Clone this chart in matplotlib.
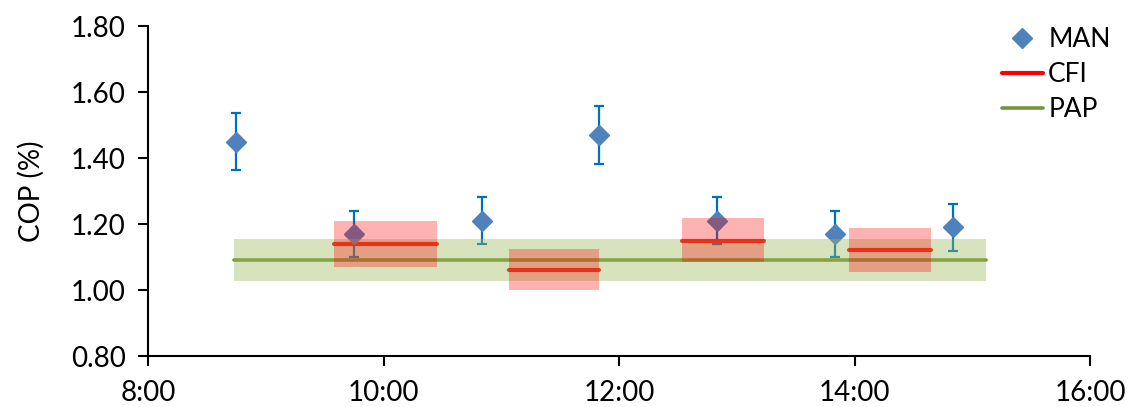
import matplotlib.pyplot as plt
from matplotlib.ticker import FuncFormatter, MultipleLocator

plt.rcParams['font.family'] = ['Lato', 'DejaVu Sans']

# MAN samples: time, mean, error
man_time = ["8:45", "9:45", "10:50", "11:50", "12:50", "13:50", "14:50"]
man_val = [1.45, 1.17, 1.21, 1.47, 1.21, 1.17, 1.19]
man_err = [0.087, 0.07, 0.072, 0.088, 0.072, 0.07, 0.071]

# CFI segments: start, end, mean, band low, band high
cfi_start = ["9:35", "11:04", "12:32", "13:57"]
cfi_end = ["10:27", "11:50", "13:14", "14:39"]
cfi_val = [1.14, 1.06, 1.148, 1.12]
cfi_lo = [1.07, 1.00, 1.084, 1.055]
cfi_hi = [1.21, 1.124, 1.218, 1.187]

# PAP reference
pap_start = "8:44"
pap_end = "15:07"
pap_val = 1.09
pap_lo = 1.026
pap_hi = 1.155


def hrs(s):
    h, m = s.split(":")
    return int(h) + int(m) / 60.0


fig = plt.figure(figsize=(11.3, 4.07), dpi=100)
ax = fig.add_axes([0.131, 0.1253, 0.8336, 0.8107])

mx = [hrs(t) for t in man_time]
ax.errorbar(mx, man_val, yerr=man_err, fmt='none', ecolor='#0070C0',
            elinewidth=1.6, capsize=3.5, capthick=1.6, zorder=2)
ax.plot(mx, man_val, 'D', color='#4F81BD', markersize=10.5, label='MAN', zorder=3)

# PAP line and band
p0, p1 = hrs(pap_start), hrs(pap_end)
ax.plot([p0, p1], [pap_val, pap_val], color='#77933C', lw=2.6,
        solid_capstyle='round', label='PAP', zorder=2.5)
ax.fill_between([p0, p1], pap_lo, pap_hi, color='#9BBB59', alpha=0.4,
                lw=0, zorder=4)

# CFI segments and bands
for i in range(len(cfi_val)):
    a, b = hrs(cfi_start[i]), hrs(cfi_end[i])
    ax.plot([a, b], [cfi_val[i], cfi_val[i]], color='#FF0000', lw=3,
            solid_capstyle='round', zorder=2.6,
            label='CFI' if i == 0 else None)
    ax.fill_between([a, b], cfi_lo[i], cfi_hi[i], color='#FF0000', alpha=0.3,
                    lw=0, zorder=5)

ax.set_xlim(8, 16)
ax.set_ylim(0.8, 1.8)
ax.xaxis.set_major_locator(MultipleLocator(2))
ax.yaxis.set_major_locator(MultipleLocator(0.2))
ax.xaxis.set_major_formatter(FuncFormatter(lambda v, p: "%d:00" % round(v)))
ax.yaxis.set_major_formatter(FuncFormatter(lambda v, p: "%.2f" % v))

for s in ['top', 'right']:
    ax.spines[s].set_visible(False)
for s in ['left', 'bottom']:
    ax.spines[s].set_linewidth(1.5)
ax.tick_params(axis='both', direction='out', length=7.5, width=1.5,
               labelsize=20)
ax.tick_params(axis='y', pad=8.5)
ax.tick_params(axis='x', pad=10)
ax.set_ylabel("COP (%)", fontsize=20, labelpad=19)

h, l = ax.get_legend_handles_labels()
order = [l.index('MAN'), l.index('CFI'), l.index('PAP')]
ax.legend([h[k] for k in order], [l[k] for k in order], loc='upper left',
          bbox_to_anchor=(0.8867, 0.934), bbox_transform=fig.transFigure,
          frameon=False, fontsize=19, borderpad=0, borderaxespad=0,
          handlelength=1.55, handletextpad=0.2, labelspacing=0.38)

fig.savefig("out.png", dpi=100)
